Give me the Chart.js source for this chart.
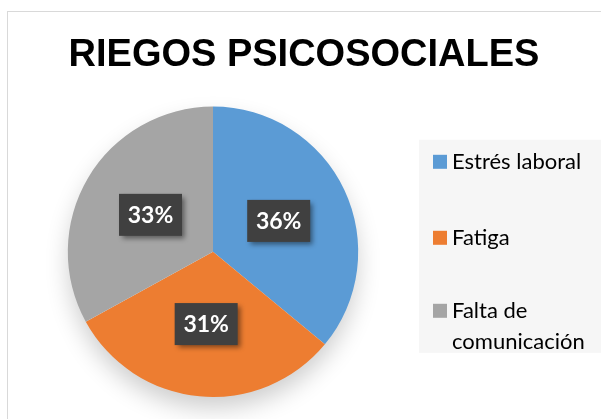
<!DOCTYPE html>
<html>
<head>
    <meta charset="utf-8">
    <title>Riegos psicosociales</title>
    <script src="https://cdn.jsdelivr.net/npm/chart.js"></script>
    <style>
        html, body {
            margin: 0;
            padding: 0;
            background: #ffffff;
        }
        .wrap {
            position: relative;
            width: 601px;
            height: 419px;
            overflow: hidden;
        }
        .frame {
            position: absolute;
            left: 7px;
            top: 11px;
            width: 700px;
            height: 500px;
            border-left: 1px solid #d9d9d9;
            border-top: 1px solid #d9d9d9;
        }
        #pieChart {
            position: absolute;
            left: 0;
            top: 0;
        }
    </style>
</head>
<body>
    <div class="wrap">
        <div class="frame"></div>
        <canvas id="pieChart" width="601" height="419"></canvas>
    </div>

    <script>
        const chartTitle = 'RIEGOS PSICOSOCIALES';
        const categories = ['Estrés laboral', 'Fatiga', 'Falta de comunicación'];
        const legendLines = [['Estrés laboral'], ['Fatiga'], ['Falta de', 'comunicación']];
        const percentages = [36, 31, 33];
        const sliceColors = ['#5b9bd5', '#ed7d31', '#a5a5a5'];

        // soft shadow under the whole pie
        const pieShadow = {
            id: 'pieShadow',
            beforeDatasetsDraw(chart) {
                const arc = chart.getDatasetMeta(0).data[0];
                if (!arc) return;
                const ctx = chart.ctx;
                ctx.save();
                ctx.shadowColor = 'rgba(0,0,0,0.2)';
                ctx.shadowBlur = 24;
                ctx.shadowOffsetY = 12;
                ctx.fillStyle = '#ffffff';
                ctx.beginPath();
                ctx.arc(arc.x, arc.y, arc.outerRadius - 1, 0, Math.PI * 2);
                ctx.fill();
                ctx.restore();
            }
        };

        // dark boxes with the percentage inside each slice
        const sliceLabels = {
            id: 'sliceLabels',
            afterDatasetsDraw(chart) {
                const ctx = chart.ctx;
                const meta = chart.getDatasetMeta(0);
                meta.data.forEach((arc, i) => {
                    const mid = (arc.startAngle + arc.endAngle) / 2;
                    const r = arc.outerRadius * 0.5;
                    const cx = arc.x + Math.cos(mid) * r;
                    const cy = arc.y + Math.sin(mid) * r;
                    const w = 63, h = 42;
                    ctx.save();
                    ctx.shadowColor = 'rgba(0,0,0,0.45)';
                    ctx.shadowBlur = 5;
                    ctx.shadowOffsetX = 3;
                    ctx.shadowOffsetY = 3;
                    ctx.fillStyle = '#404040';
                    ctx.fillRect(cx - w / 2, cy - h / 2, w, h);
                    ctx.restore();
                    ctx.save();
                    ctx.fillStyle = '#ffffff';
                    ctx.font = 'bold 23px Lato';
                    ctx.textAlign = 'center';
                    ctx.textBaseline = 'middle';
                    ctx.fillText(percentages[i] + '%', cx, cy + 1);
                    ctx.restore();
                });
            }
        };

        // legend as a layout box on the right, so the title keeps the full width
        const sideLegend = {
            id: 'sideLegend',
            install(chart) {
                const box = {
                    position: 'right',
                    weight: 0,
                    fullSize: false,
                    options: {},
                    left: 0, top: 0, right: 0, bottom: 0, width: 0, height: 0,
                    isHorizontal() { return false; },
                    update(maxWidth, maxHeight) {
                        this.width = 182;
                        this.height = maxHeight;
                    },
                    draw() {
                        const ctx = chart.ctx;
                        const cy = (this.top + this.bottom) / 2;
                        const rows = [cy - 90, cy - 14, cy + 59];
                        ctx.save();
                        ctx.fillStyle = '#f6f6f6';
                        ctx.fillRect(this.left, cy - 112, this.width, 213);
                        ctx.font = '22px Lato';
                        ctx.textBaseline = 'middle';
                        ctx.textAlign = 'left';
                        legendLines.forEach((lines, i) => {
                            ctx.fillStyle = sliceColors[i];
                            ctx.fillRect(this.left + 14, rows[i] - 7, 14, 14);
                            ctx.fillStyle = '#000000';
                            lines.forEach((t, j) => {
                                ctx.fillText(t, this.left + 33, rows[i] + j * 31);
                            });
                        });
                        ctx.restore();
                    }
                };
                chart.$sideLegend = box;
                Chart.layouts.addBox(chart, box);
            },
            uninstall(chart) {
                Chart.layouts.removeBox(chart, chart.$sideLegend);
            }
        };

        const ctx = document.getElementById('pieChart').getContext('2d');
        new Chart(ctx, {
            type: 'pie',
            data: {
                labels: categories,
                datasets: [{
                    data: percentages,
                    backgroundColor: sliceColors,
                    borderWidth: 0
                }]
            },
            options: {
                responsive: false,
                animation: false,
                layout: {
                    padding: { top: 12, left: 7, right: 0, bottom: 22 }
                },
                plugins: {
                    title: {
                        display: true,
                        text: chartTitle,
                        color: '#000000',
                        font: { family: 'Liberation Sans', size: 38, weight: 'bold' },
                        padding: { top: 21, bottom: 28 }
                    },
                    legend: { display: false },
                    tooltip: { enabled: false }
                }
            },
            plugins: [pieShadow, sliceLabels, sideLegend]
        });
    </script>
</body>
</html>
